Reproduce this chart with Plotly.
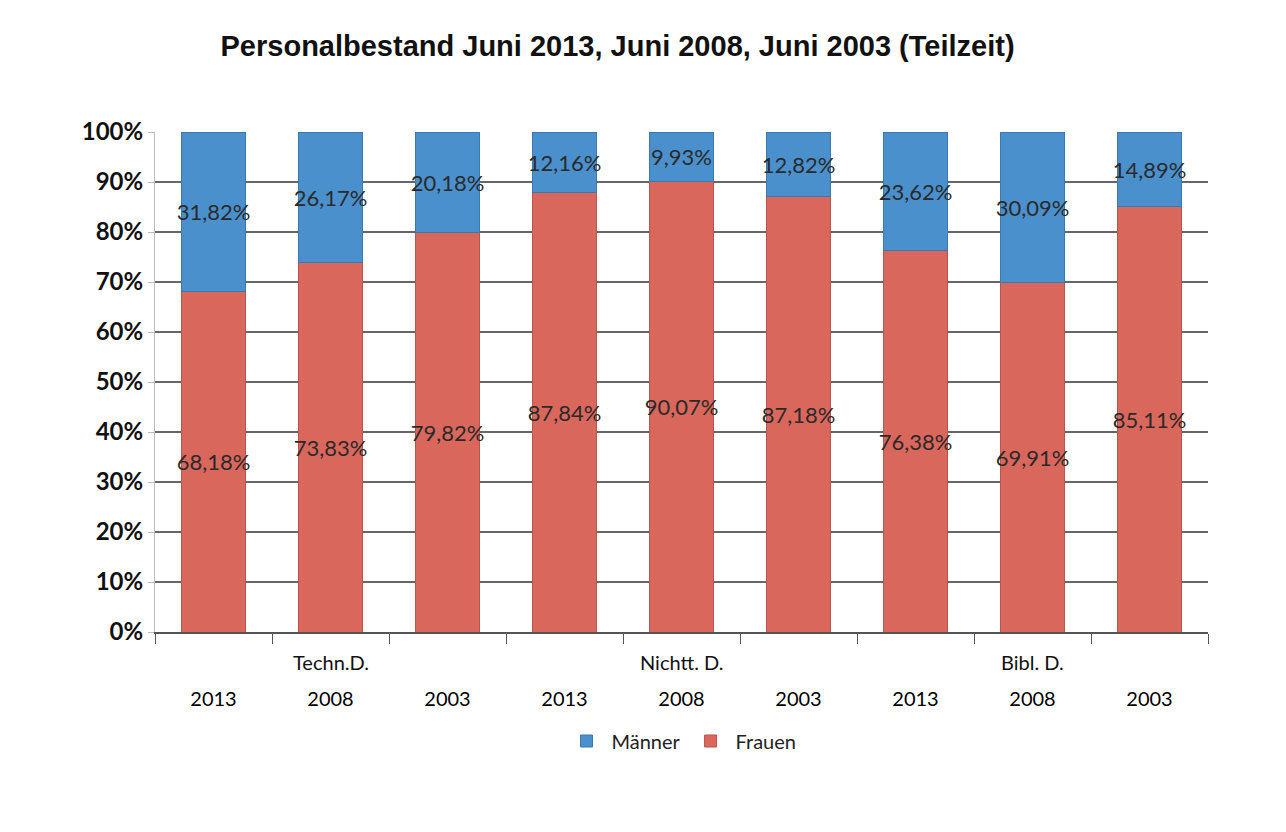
import plotly.graph_objects as go

groups = ["Techn.D.", "Techn.D.", "Techn.D.", "Nichtt. D.", "Nichtt. D.", "Nichtt. D.", "Bibl. D.", "Bibl. D.", "Bibl. D."]
years = ["2013", "2008", "2003", "2013", "2008", "2003", "2013", "2008", "2003"]
maenner = [31.82, 26.17, 20.18, 12.16, 9.93, 12.82, 23.62, 30.09, 14.89]
frauen = [68.18, 73.83, 79.82, 87.84, 90.07, 87.18, 76.38, 69.91, 85.11]
group_labels = ["Techn.D.", "Nichtt. D.", "Bibl. D."]
title_text = "Personalbestand Juni 2013, Juni 2008, Juni 2003 (Teilzeit)"

cats = [f"{g}|{y}" for g, y in zip(groups, years)]


def fmt(v):
    return f"{v:.2f}".replace(".", ",") + "%"


label_font = dict(family="Lato, Carlito, sans-serif", size=22, color="#2a2a2a")

fig = go.Figure()
fig.add_trace(go.Bar(
    x=cats, y=frauen, name="Frauen",
    marker=dict(color="#D9675C", line=dict(color="#B8554C", width=1)),
    text=[fmt(v) for v in frauen], textposition="inside", insidetextanchor="middle",
    textangle=0, constraintext="none", textfont=label_font,
))
fig.add_trace(go.Bar(
    x=cats, y=maenner, name="Männer",
    marker=dict(color="#4A90CC", line=dict(color="#3A78AE", width=1)),
    text=[fmt(v) for v in maenner], textposition="inside", insidetextanchor="middle",
    textangle=0, constraintext="none", textfont=label_font,
))

# group labels above the year labels
for g in group_labels:
    idx = [i for i, gg in enumerate(groups) if gg == g]
    mid = cats[idx[len(idx) // 2]]
    fig.add_annotation(x=mid, xref="x", y=0, yref="paper", yanchor="top",
                       yshift=-16, showarrow=False, text=g,
                       font=dict(family="Lato, Carlito, sans-serif", size=20, color="#111111"))

fig.update_layout(
    width=1286, height=832,
    margin=dict(l=147, r=86, t=124, b=208),
    barmode="stack", bargap=0.45,
    paper_bgcolor="white", plot_bgcolor="white",
    title=dict(text=f"<b>{title_text}</b>", x=0.474, xanchor="center", y=0.955, yanchor="middle",
               font=dict(family="Liberation Sans, Arial, sans-serif", size=29, color="#111111")),
    legend=dict(orientation="h", x=0.5, xanchor="center", y=-0.218, yanchor="middle",
                traceorder="reversed", itemwidth=40,
                font=dict(family="Lato, Carlito, sans-serif", size=20, color="#222222")),
    showlegend=True,
)
fig.update_yaxes(range=[0, 100], dtick=10, ticksuffix="%", showgrid=True,
                 gridcolor="#666666", gridwidth=1.5, zeroline=False,
                 showline=True, linecolor="#BBBBBB", linewidth=1,
                 ticks="outside", ticklen=6, tickcolor="#BBBBBB",
                 tickfont=dict(family="Lato, Carlito, sans-serif", size=24, color="#111111", weight="bold"))
fig.update_xaxes(tickmode="array", tickvals=cats, ticktext=years,
                 showline=True, linecolor="#555555", linewidth=1.5,
                 ticks="outside", tickson="boundaries", ticklen=10, tickcolor="#555555",
                 ticklabelstandoff=48,
                 tickfont=dict(family="Lato, Carlito, sans-serif", size=20, color="#000000"))

fig.write_html("out.html")
